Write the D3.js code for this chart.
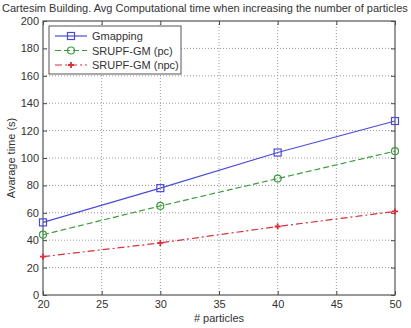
<!DOCTYPE html>
<html>
<head>
<meta charset="utf-8">
<script src="https://cdn.jsdelivr.net/npm/d3@7"></script>
<style>
  body { margin: 0; background: #fff; }
  text { font-family: "Liberation Sans", Arial, sans-serif; fill: #333; }
</style>
</head>
<body>
<svg id="chart" width="411" height="328"></svg>
<script>
// particle counts on the x axis
const particles = [20, 30, 40, 50]

// average computational time (s) per method
const gmapping = [53, 78, 104, 127]
const srupfPc = [44, 65, 85, 105]
const srupfNpc = [28, 38, 50, 61]

const xTicks = [20, 25, 30, 35, 40, 45, 50]
const yTicks = [0, 20, 40, 60, 80, 100, 120, 140, 160, 180, 200]

const series = [
  { name: 'Gmapping', values: gmapping, color: '#4b4bd6', dash: null, marker: 'square' },
  { name: 'SRUPF-GM (pc)', values: srupfPc, color: '#3f9a3f', dash: '6,3', marker: 'circle' },
  { name: 'SRUPF-GM (npc)', values: srupfNpc, color: '#d9303c', dash: '7,3,2,3', marker: 'plus' }
]

const margin = { top: 21, right: 16, bottom: 33, left: 43 }
const width = 411 - margin.left - margin.right
const height = 328 - margin.top - margin.bottom

const svg = d3.select('#chart')

// title, cut off on the right like the original
svg.append('text')
  .attr('x', 2)
  .attr('y', 12)
  .style('font-size', '11px')
  .text('Cartesim Building. Avg Computational time when increasing the number of particles')

const g = svg.append('g').attr('transform', `translate(${margin.left},${margin.top})`)

const x = d3.scaleLinear().domain([20, 50]).range([0, width])
const y = d3.scaleLinear().domain([0, 200]).range([height, 0])

// dotted grid
g.selectAll('.vgrid')
  .data(xTicks.slice(1, -1))
  .join('line')
  .attr('x1', d => x(d)).attr('x2', d => x(d))
  .attr('y1', 0).attr('y2', height)
  .attr('stroke', '#999').attr('stroke-dasharray', '1,2')

g.selectAll('.hgrid')
  .data(yTicks.slice(1, -1))
  .join('line')
  .attr('y1', d => y(d)).attr('y2', d => y(d))
  .attr('x1', 0).attr('x2', width)
  .attr('stroke', '#999').attr('stroke-dasharray', '1,2')

// axes with ticks pointing inward
const tickStyle = sel => {
  sel.select('.domain').remove()
  sel.selectAll('line').attr('stroke', '#444')
  sel.selectAll('text').style('font-size', '11px').attr('fill', '#333')
}

g.append('g')
  .attr('transform', `translate(0,${height})`)
  .call(d3.axisBottom(x).tickValues(xTicks).tickSizeInner(-4).tickSizeOuter(0).tickPadding(5))
  .call(tickStyle)

g.append('g')
  .call(d3.axisLeft(y).tickValues(yTicks).tickSizeInner(-4).tickSizeOuter(0).tickPadding(4))
  .call(tickStyle)

g.append('g')
  .call(d3.axisTop(x).tickValues(xTicks).tickSizeInner(-4).tickSizeOuter(0).tickFormat(''))
  .call(tickStyle)

g.append('g')
  .attr('transform', `translate(${width},0)`)
  .call(d3.axisRight(y).tickValues(yTicks).tickSizeInner(-4).tickSizeOuter(0).tickFormat(''))
  .call(tickStyle)

// plot frame
g.append('rect')
  .attr('width', width).attr('height', height)
  .attr('fill', 'none').attr('stroke', '#555').attr('stroke-width', 1.2)

// marker drawing helper
const drawMarker = (sel, s, cx, cy) => {
  if (s.marker === 'square') {
    sel.append('rect')
      .attr('x', cx - 3.5).attr('y', cy - 3.5).attr('width', 7).attr('height', 7)
      .attr('fill', 'none').attr('stroke', s.color).attr('stroke-width', 1.2)
  } else if (s.marker === 'circle') {
    sel.append('circle')
      .attr('cx', cx).attr('cy', cy).attr('r', 3.5)
      .attr('fill', 'none').attr('stroke', s.color).attr('stroke-width', 1.2)
  } else {
    sel.append('path')
      .attr('d', `M${cx - 3},${cy}H${cx + 3}M${cx},${cy - 3}V${cy + 3}`)
      .attr('stroke', s.color).attr('stroke-width', 1.8)
  }
}

const line = d3.line().x((d, i) => x(particles[i])).y(d => y(d))

series.forEach(s => {
  g.append('path')
    .datum(s.values)
    .attr('d', line)
    .attr('fill', 'none')
    .attr('stroke', s.color)
    .attr('stroke-width', 1.2)
    .attr('stroke-dasharray', s.dash)

  const mg = g.append('g')
  s.values.forEach((v, i) => drawMarker(mg, s, x(particles[i]), y(v)))
})

// axis labels
svg.append('text')
  .attr('x', margin.left + width / 2)
  .attr('y', 322)
  .attr('text-anchor', 'middle')
  .style('font-size', '11px')
  .text('# particles')

svg.append('text')
  .attr('transform', `translate(15,${margin.top + height / 2}) rotate(-90)`)
  .attr('text-anchor', 'middle')
  .style('font-size', '11px')
  .text('Avarage time (s)')

// legend
const legend = g.append('g').attr('transform', 'translate(6,5)')
legend.append('rect')
  .attr('width', 132).attr('height', 48)
  .attr('fill', '#fff').attr('stroke', '#555')

series.forEach((s, i) => {
  const ly = 10 + i * 14.5
  legend.append('line')
    .attr('x1', 6).attr('x2', 38)
    .attr('y1', ly).attr('y2', ly)
    .attr('stroke', s.color).attr('stroke-width', 1.2)
    .attr('stroke-dasharray', s.dash)
  drawMarker(legend, s, 22, ly)
  legend.append('text')
    .attr('x', 43).attr('y', ly + 4)
    .style('font-size', '11px')
    .text(s.name)
})
</script>
</body>
</html>
